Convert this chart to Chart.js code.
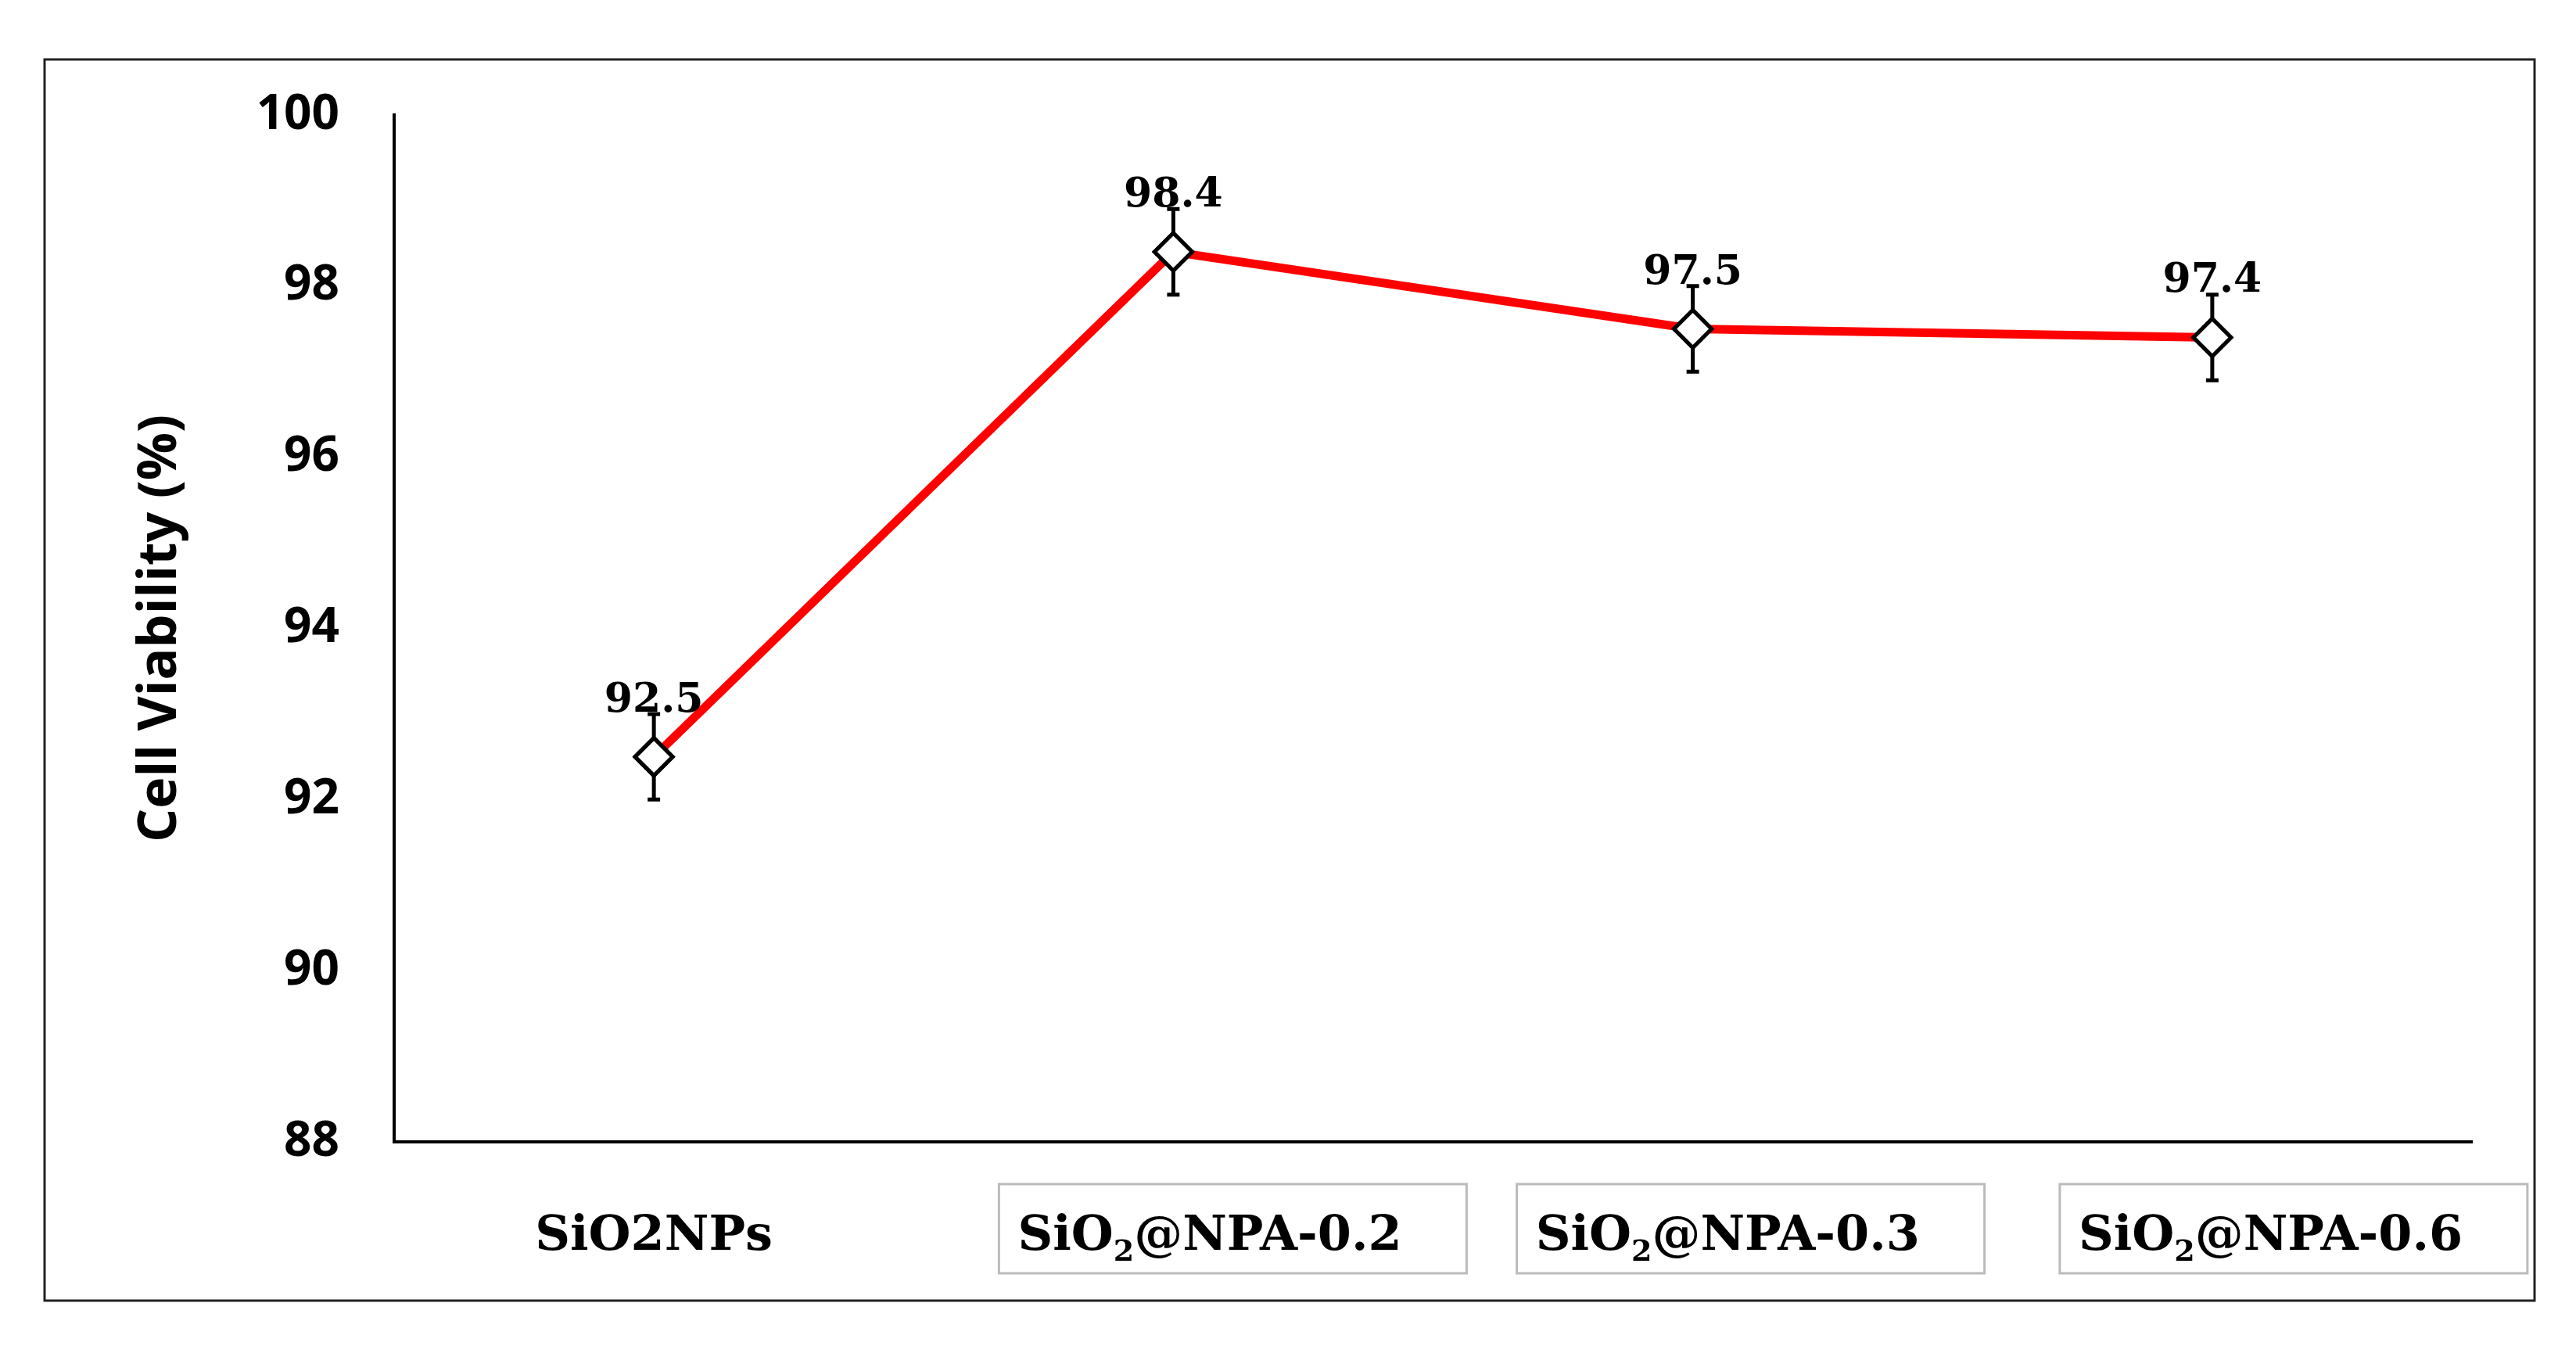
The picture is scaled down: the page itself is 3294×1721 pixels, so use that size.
<!DOCTYPE html>
<html><head><meta charset="utf-8">
<script src="https://cdn.jsdelivr.net/npm/chart.js@4"></script>
<style>html,body{margin:0;padding:0;background:#fff}#wrap{width:3294px;height:1721px}</style>
</head><body><div id="wrap"><canvas id="c"></canvas></div>
<script>
const categories = ["SiO2NPs", "SiO2@NPA-0.2", "SiO2@NPA-0.3", "SiO2@NPA-0.6"];
const labelParts = [["SiO2NPs", "", ""], ["SiO", "2", "@NPA-0.2"], ["SiO", "2", "@NPA-0.3"], ["SiO", "2", "@NPA-0.6"]];
const labelBoxed = [false, true, true, true];
const boxShift = [0, 76, 74, 104];
const viability = [92.5, 98.4, 97.5, 97.4];
const errors = [0.5, 0.5, 0.5, 0.5];
const yTicks = [88, 90, 92, 94, 96, 98, 100];

const SERIF = '"DejaVu Serif", "Liberation Serif", serif';
const extras = {
  id: 'extras',
  beforeDraw(chart) {
    const c = chart.ctx;
    c.save(); c.fillStyle = '#fff'; c.fillRect(0, 0, chart.width, chart.height);
    c.strokeStyle = '#222'; c.lineWidth = 3; c.strokeRect(57, 76, 3184, 1587); c.restore();
  },
  afterDatasetsDraw(chart) {
    const c = chart.ctx, x = chart.scales.x, y = chart.scales.y;
    c.save();
    c.strokeStyle = '#000'; c.lineWidth = 5;
    viability.forEach((v, i) => {
      const px = x.getPixelForValue(i);
      const t = y.getPixelForValue(v + errors[i]), b = y.getPixelForValue(v - errors[i]);
      c.beginPath(); c.moveTo(px, t); c.lineTo(px, y.getPixelForValue(v) - 24);
      c.moveTo(px, y.getPixelForValue(v) + 24); c.lineTo(px, b);
      c.moveTo(px - 8, t); c.lineTo(px + 8, t); c.moveTo(px - 8, b); c.lineTo(px + 8, b);
      c.stroke();
    });
    chart.getDatasetMeta(0).data.forEach(p => p.draw(c));
    c.fillStyle = '#000'; c.font = 'bold 52px ' + SERIF; c.textAlign = 'center'; c.textBaseline = 'alphabetic';
    viability.forEach((v, i) => {
      c.fillText(v.toFixed(1), x.getPixelForValue(i), y.getPixelForValue(v) - 58);
    });
    const ly = 1598;
    labelParts.forEach((parts, i) => {
      const cx = x.getPixelForValue(i) + boxShift[i];
      const big = 'bold 62px ' + SERIF, small = 'bold 38px ' + SERIF;
      c.font = big; const w1 = c.measureText(parts[0]).width, w3 = c.measureText(parts[2]).width;
      c.font = small; const w2 = c.measureText(parts[1]).width;
      const tw = w1 + w2 + w3;
      if (labelBoxed[i]) {
        c.strokeStyle = '#bbb'; c.lineWidth = 3;
        c.strokeRect(cx - 299, 1514, 598, 114);
      }
      let sx = labelBoxed[i] ? cx - 299 + 24 : cx - tw / 2;
      c.textAlign = 'left'; c.fillStyle = '#000';
      c.font = big; c.fillText(parts[0], sx, ly);
      c.font = small; c.fillText(parts[1], sx + w1, ly + 14);
      c.font = big; c.fillText(parts[2], sx + w1 + w2, ly);
    });
    c.restore();
  }
};

new Chart(document.getElementById('c'), {
  type: 'line',
  data: { labels: categories, datasets: [{
    data: viability, borderColor: '#ff0000', borderWidth: 11,
    pointStyle: 'rectRot', pointRadius: 24, pointBackgroundColor: '#fff',
    pointBorderColor: '#000', pointBorderWidth: 5, tension: 0
  }]},
  options: {
    responsive: true, maintainAspectRatio: false, animation: false,
    devicePixelRatio: 1,
    layout: { padding: { left: 165, right: 133, top: 147, bottom: 261 } },
    plugins: { legend: { display: false }, tooltip: { enabled: false } },
    scales: {
      x: { offset: true, grid: { display: false, drawTicks: false }, ticks: { display: false },
           border: { display: true, color: '#000', width: 4 },
           afterFit(s) { s.height = 0; } },
      y: { min: 88, max: 100, grid: { display: false, drawTicks: false },
           border: { display: true, color: '#000', width: 4 },
           afterBuildTicks(s) { s.ticks = yTicks.map(v => ({ value: v })); },
           ticks: { padding: 70, color: '#000', font: { family: '"Open Sans", Roboto, sans-serif', weight: 'bold', size: 62 } },
           title: { display: true, text: 'Cell Viability (%)', color: '#000', padding: 0,
                    font: { family: '"Open Sans", Roboto, sans-serif', weight: 'bold', size: 68 } },
           afterFit(s) { s.width = 339; } }
    }
  },
  plugins: [extras]
});
</script></body></html>
